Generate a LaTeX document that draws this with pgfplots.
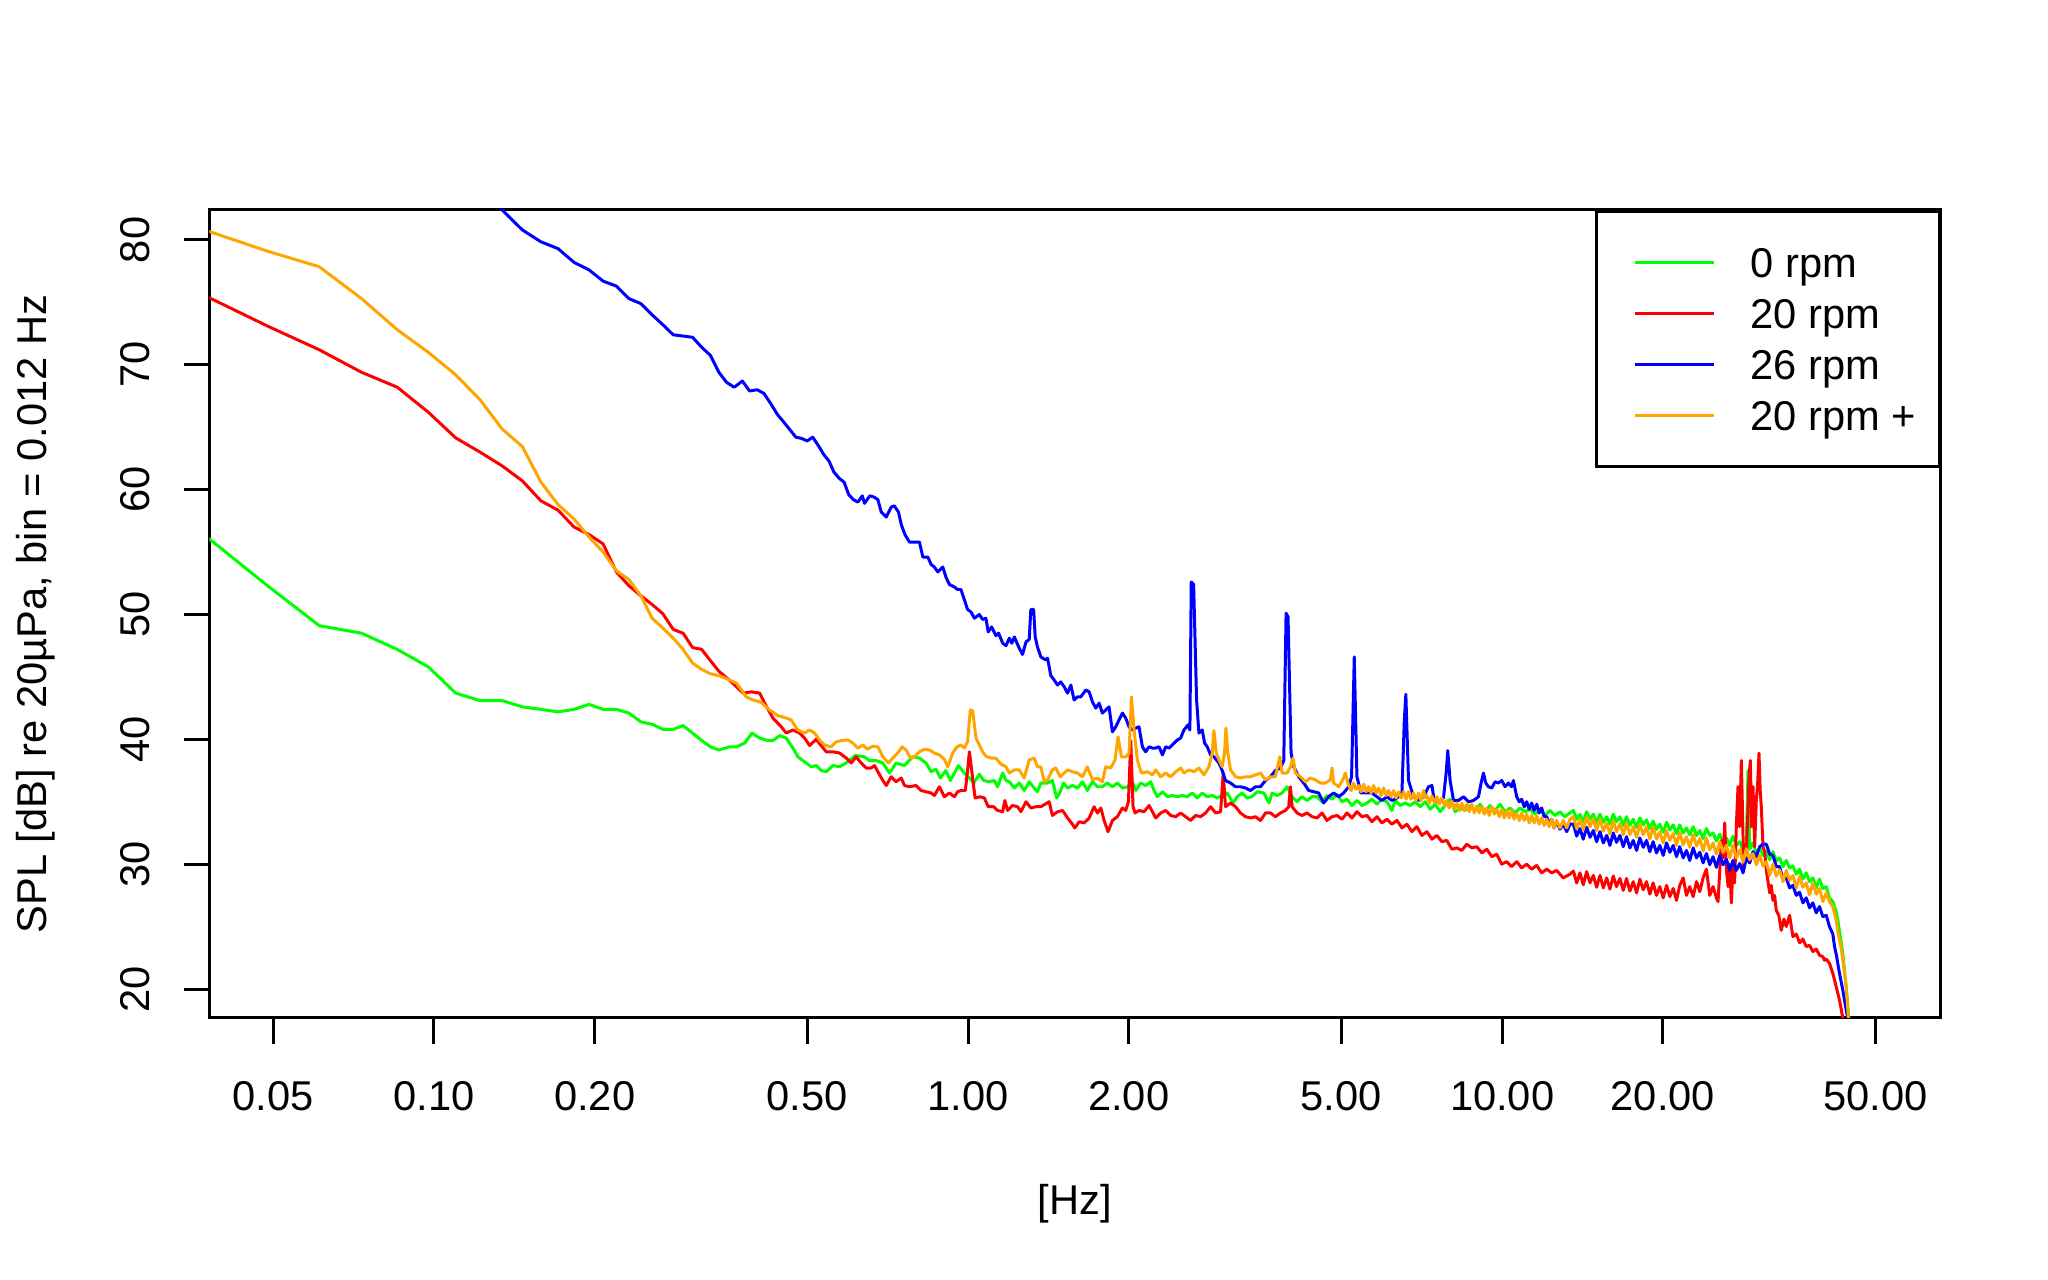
\documentclass[border=0pt]{standalone}
\usepackage{pgfplots}
\pgfplotsset{compat=1.18}
\usepackage{fontspec}
\setmainfont{Liberation Sans}
\definecolor{rgreen}{RGB}{0,255,0}
\definecolor{rred}{RGB}{255,0,0}
\definecolor{rblue}{RGB}{0,0,255}
\definecolor{rorange}{RGB}{255,165,0}
\begin{document}
\begin{tikzpicture}[font=\fontsize{11.85}{14.2}\selectfont]
\path[use as bounding box] (0,0) rectangle (204.8mm,128mm);
\begin{axis}[
  at={(20.95mm,26.2mm)}, anchor=south west,
  width=173.1mm, height=80.8mm, scale only axis,
  xmode=log, xmin=0.0380, xmax=66.2, ymin=17.68, ymax=82.40,
  axis line style={line width=0.85pt},
  every tick/.style={black, line width=0.85pt},
  tick align=outside, major tick length=2.6mm, minor tick length=0pt,
  tick pos=left,
  xtick={0.05,0.1,0.2,0.5,1,2,5,10,20,50},
  xticklabels={0.05,0.10,0.20,0.50,1.00,2.00,5.00,10.00,20.00,50.00},
  ytick={20,30,40,50,60,70,80},
  yticklabels={20,30,40,50,60,70,80},
  xticklabel style={anchor=base, yshift=-6.67mm, inner sep=0pt},
  yticklabel style={xshift=-3.45mm, rotate=90, anchor=base, inner sep=0pt},
  xlabel={[Hz]}, ylabel={SPL [dB] re 20µPa, bin = 0.012 Hz},
  every axis x label/.style={at={(axis description cs:0.5,0)}, anchor=base, yshift=-19.67mm},
  every axis y label/.style={at={(axis description cs:0,0.5)}, xshift=-16.3mm, rotate=90, anchor=base},
  legend style={at={(1,1)}, anchor=north east, draw=black, line width=0.85pt, fill=white,
    inner xsep=2.28mm, inner ysep=2.55mm, row sep=0pt, column sep=3.5mm,
    nodes={inner sep=0pt, text height=4.05mm, text depth=1.05mm}},
  legend cell align=left,
  legend image code/.code={\path (0mm,0mm); \draw[#1] (1.45mm,0mm) -- (9.35mm,0mm);},
  every axis plot/.append style={line width=0.85pt, line join=round},
]
% 0 rpm
\addplot[rgreen] coordinates {
(0.0366,56.6) (0.0488,52.3) (0.0610,49.1) (0.0732,48.5) (0.0854,47.2) (0.0976,45.8) (0.1098,43.7) (0.1220,43.1) (0.1342,43.1) (0.1464,42.6) (0.1586,42.4) (0.1708,42.2) (0.1830,42.4) (0.1952,42.8) (0.2074,42.4) (0.2196,42.4) (0.2318,42.1) (0.2440,41.4) (0.2562,41.2) (0.2684,40.8) (0.2806,40.8) (0.2928,41.1) (0.3050,40.5) (0.3172,39.9) (0.3294,39.4) (0.3416,39.15)
(0.358,39.4) (0.3685,39.4) (0.382,39.7) (0.394,40.5) (0.4073,40.1) (0.4221,39.9) (0.4313,39.9) (0.444,40.3) (0.4567,40.1) (0.470,39.3) (0.4803,38.6) (0.4943,38.2) (0.5087,37.8) (0.5197,37.9) (0.531,37.5) (0.5426,37.4) (0.5585,37.9) (0.5747,37.8) (0.5957,38.2) (0.6147,38.7) (0.640,38.6) (0.6539,38.3) (0.673,38.3) (0.6927,38.1) (0.7129,37.3) (0.7333,38.1) (0.7604,37.9) (0.7882,38.6) (0.811,38.5) (0.8346,38.1) (0.853,37.4) (0.871,37.6) (0.8876,36.9) (0.909,37.5) (0.9267,36.7) (0.943,37.3) (0.9592,37.9) (0.984,37.3) (1.006,36.9) (1.025,36.5) (1.050,37.2) (1.070,36.7) (1.096,36.6) (1.120,36.7) (1.136,36.2) (1.161,37.3) (1.178,36.7) (1.195,36.6) (1.221,36.1) (1.247,36.5) (1.274,35.9) (1.302,36.6) (1.330,36.1) (1.349,35.8) (1.369,36.5) (1.409,36.5) (1.439,36.7) (1.466,35.3) (1.488,35.8) (1.510,36.5) (1.536,36.1) (1.569,36.3) (1.603,36.1) (1.638,36.6) (1.673,35.9) (1.710,36.6) (1.747,36.2) (1.785,36.2) (1.824,36.5) (1.864,36.2) (1.904,36.5) (1.946,36.1) (1.99,36.2) (2.031,36.6) (2.061,35.9) (2.105,36.5) (2.151,36.3) (2.198,36.6)
(2.230,35.9) (2.262,35.4) (2.312,35.8) (2.362,35.4) (2.413,35.5) (2.465,35.4) (2.519,35.5) (2.574,35.4) (2.630,35.7) (2.687,35.3) (2.745,35.7) (2.805,35.4) (2.867,35.5) (2.929,35.3) (2.992,35.5) (3.057,35.7) (3.134,34.9) (3.192,35.4) (3.26,35.7) (3.33,35.3) (3.40,35.4) (3.48,35.8) (3.58,35.7) (3.66,34.9) (3.71,35.7) (3.79,35.5) (3.874,35.7) (3.958,36.2) (4.044,35.4) (4.132,35.0) (4.222,35.4) (4.313,35.1) (4.407,35.4)
(4.503,35.4) (4.601,35.0) (4.700,35.5) (4.803,35.2) (4.907,35.6) (5.014,35.0) (5.123,35.2) (5.234,34.7) (5.348,35.1) (5.465,34.7) (5.585,34.9) (5.706,35.2) (5.831,34.8) (5.957,35.2) (6.087,35.0) (6.219,34.3) (6.309,35.1) (6.447,34.7) (6.588,34.9) (6.730,34.7) (6.876,35.0) (7.027,34.6) (7.180,35.0) (7.337,34.4) (7.496,34.8) (7.656,34.2) (7.823,34.7) (7.992,35.2) (8.167,34.2) (8.344,34.5) (8.527,34.3) (8.712,34.7) (8.902,34.3) (9.096,34.8) (9.294,34.2) (9.495,34.7) (9.703,34.3) (9.913,34.8) (10.13,34.2) (10.35,34.5) (10.58,34.1) (10.80,34.5) (11.04,34.2) (11.28,34.4) (11.52,34.0) (11.78,34.4) (12.03,33.9) (12.29,34.3) (12.56,33.9) (12.83,34.2) (13.10,33.8) (13.40,34.1)
(13.60,34.3) (13.79,33.6) (13.99,34.0) (14.19,33.4) (14.40,34.2) (14.61,33.6) (14.82,34.0) (15.03,33.35) (15.25,34.0) (15.47,33.35) (15.70,33.8) (15.92,33.2) (16.15,34.0) (16.38,33.4) (16.62,33.8) (16.86,33.1) (17.10,33.8) (17.35,33.1) (17.60,33.6) (17.86,32.95) (18.11,33.7) (18.38,33.15) (18.64,33.55) (18.91,32.85) (19.18,33.45) (19.46,32.8) (19.74,33.2) (20.03,32.55) (20.32,33.35) (20.61,32.75) (20.91,33.15) (21.21,32.45) (21.51,33.15) (21.83,32.5) (22.14,32.9) (22.46,32.35) (22.79,33.0) (23.12,32.3) (23.45,32.7) (23.79,32.05) (24.13,32.85) (24.48,32.3) (24.83,32.5) (25.19,31.85) (25.56,32.4) (25.93,31.8) (26.30,32.1) (26.68,31.5) (27.06,32.25) (27.45,31.5) (27.86,31.8) (28.26,31.1) (28.67,31.8) (28.87,37.5) (29.08,31.2) (29.50,31.7) (29.93,30.9) (30.36,31.3) (30.80,30.7) (31.24,31.0) (31.70,30.35) (32.15,31.0) (32.61,30.25) (33.08,30.5) (33.57,29.8) (34.05,30.3) (34.54,29.7) (35.04,29.85) (35.55,29.2) (36.06,29.6) (36.58,28.8) (37.11,29.3) (37.65,28.6) (38.19,28.9) (38.74,28.1) (39.30,28.8) (39.87,28.05) (40.45,28.2) (41.02,27.3) (41.62,27.0) (42.22,26.2) (42.53,25.5) (42.83,24.6) (43.15,23.7) (43.45,22.8) (43.76,21.5) (44.08,20.2) (44.40,18.6) (44.59,17.6) (45.0,15.0)
};
\addlegendentry{0 rpm}
% 20 rpm
\addplot[rred] coordinates {
(0.0366,75.7) (0.0488,73.1) (0.0610,71.2) (0.0732,69.4) (0.0854,68.2) (0.0976,66.2) (0.1098,64.15) (0.1220,63.0) (0.1342,61.9) (0.1464,60.7) (0.1586,59.1) (0.1708,58.35) (0.1830,57.0) (0.1952,56.4) (0.2074,55.65) (0.2196,53.4) (0.2318,52.3) (0.2440,51.5) (0.2562,50.8) (0.2684,50.05) (0.2806,48.8) (0.2928,48.5) (0.3050,47.35) (0.3172,47.2) (0.3294,46.3) (0.3416,45.45)
(0.3606,44.6) (0.3792,43.7) (0.393,43.8) (0.4073,43.7) (0.4161,42.9) (0.4313,41.7) (0.447,41.0) (0.4567,40.5) (0.470,40.75) (0.4838,40.5) (0.4943,40.1) (0.5051,39.5) (0.5197,40.0) (0.5426,39.0) (0.5585,39.0) (0.5747,38.9) (0.5914,38.5) (0.6043,38.1) (0.6174,38.6) (0.631,38.1) (0.6447,37.7) (0.6587,37.7) (0.6683,37.9) (0.678,37.4) (0.6927,36.7) (0.703,36.3) (0.718,37.0) (0.7333,36.6) (0.750,36.9) (0.7604,36.3) (0.777,36.2) (0.7996,36.3) (0.8167,35.9) (0.8346,35.8) (0.853,35.7) (0.865,35.5) (0.8839,36.2) (0.9031,35.4) (0.923,35.7) (0.943,35.4) (0.956,35.8) (0.970,35.9) (0.9885,35.9) (0.998,37.5) (1.006,39.0) (1.016,37.5) (1.031,35.3) (1.054,35.4) (1.073,35.3) (1.091,34.6) (1.117,34.6) (1.136,34.3) (1.161,34.2) (1.172,35.1) (1.186,34.3) (1.212,34.7) (1.238,34.6) (1.256,34.2) (1.284,35.0) (1.311,34.5) (1.340,34.6) (1.369,34.6) (1.419,35.0) (1.439,33.9) (1.471,34.2) (1.503,34.3) (1.536,33.7) (1.562,33.3) (1.585,32.9) (1.615,33.4) (1.650,33.3) (1.686,33.7) (1.722,34.6) (1.747,34.1) (1.773,34.5) (1.798,33.5) (1.829,32.6) (1.864,33.5) (1.904,33.8) (1.946,34.5) (1.974,34.3) (1.997,35.0) (2.017,39.9) (2.037,34.6) (2.055,34.1) (2.090,34.3) (2.136,34.2) (2.183,34.7)
(2.246,33.7) (2.295,34.1) (2.344,34.3) (2.396,33.9) (2.448,33.8) (2.501,34.1) (2.555,33.8) (2.611,33.5) (2.668,33.9) (2.726,33.8) (2.785,34.1) (2.846,34.6) (2.908,34.1) (2.971,34.2) (3.005,37.3) (3.035,34.6) (3.101,34.9) (3.169,34.6) (3.237,34.1) (3.308,33.8) (3.381,33.7) (3.454,33.8) (3.529,33.5) (3.606,34.1) (3.685,34.1) (3.764,33.8) (3.846,34.1) (3.930,34.3) (3.986,34.6) (4.015,36.2) (4.044,34.6) (4.132,34.1) (4.222,33.9) (4.313,34.1) (4.407,33.8) (4.503,33.7) (4.601,34.1) (4.700,33.5) (4.803,33.8) (4.907,33.9) (5.014,33.6) (5.123,34.1) (5.234,33.7) (5.348,34.2) (5.465,33.8) (5.585,33.9) (5.706,33.4) (5.831,33.8) (5.957,33.3) (6.087,33.6) (6.219,33.2) (6.355,33.5) (6.494,32.9) (6.635,33.2) (6.778,32.6) (6.925,33.0) (7.077,32.3) (7.231,32.6) (7.390,32.0) (7.550,32.3) (7.712,31.8) (7.879,31.9) (8.051,31.2) (8.226,31.3) (8.406,31.1) (8.588,31.6) (8.776,31.3) (8.966,31.4) (9.162,30.9) (9.361,31.2) (9.563,30.6) (9.772,30.8) (9.984,30.0) (10.20,30.2) (10.42,29.8) (10.65,30.2) (10.88,29.7) (11.12,30.0) (11.36,29.6) (11.61,29.9) (11.86,29.3) (12.12,29.6) (12.38,29.3) (12.65,29.5) (13.02,28.9) (13.40,29.2)
(13.60,29.45) (13.79,28.5) (13.99,29.3) (14.19,28.35) (14.40,29.4) (14.61,28.5) (14.82,29.1) (15.03,28.15) (15.25,29.1) (15.47,28.1) (15.70,28.9) (15.92,28.0) (16.15,29.05) (16.38,28.2) (16.62,28.85) (16.86,27.9) (17.10,28.85) (17.35,27.85) (17.60,28.6) (17.86,27.7) (18.11,28.8) (18.38,27.95) (18.64,28.6) (18.91,27.6) (19.18,28.5) (19.46,27.5) (19.74,28.2) (20.03,27.3) (20.32,28.3) (20.61,27.4) (20.91,28.05) (21.21,27.1) (21.51,28.3) (21.83,28.9) (22.14,27.5) (22.46,28.2) (22.79,27.4) (23.12,28.6) (23.45,27.8) (23.79,28.9) (24.13,29.6) (24.48,27.5) (24.83,28.2) (25.19,27.3) (25.37,27.0) (25.56,29.5) (25.74,31.9) (25.93,30.5) (26.11,33.3) (26.30,29.6) (26.49,28.2) (26.68,30.0) (26.87,26.9) (27.06,29.8) (27.25,28.5) (27.45,33.0) (27.65,36.2) (27.85,33.0) (28.05,38.3) (28.20,34.0) (28.33,29.8) (28.50,31.5) (28.67,30.9) (28.87,34.6) (29.00,37.0) (29.16,38.3) (29.33,33.0) (29.50,36.2) (29.71,31.4) (29.92,35.1) (30.10,36.5) (30.27,38.9) (30.42,36.0) (30.57,34.6) (30.80,31.4) (31.02,31.0) (31.24,29.5) (31.47,28.6) (31.70,27.7) (31.92,28.3) (32.15,27.1) (32.38,27.5) (32.61,26.3) (32.97,25.9) (33.32,24.7) (33.70,25.6) (34.05,25.0) (34.54,25.9) (35.04,24.2) (35.55,24.4) (36.06,23.7) (36.58,24.0) (37.11,23.4) (37.65,23.5) (38.19,23.0) (38.74,23.2) (39.30,22.7) (39.87,22.6) (40.15,22.3) (40.45,22.4) (41.02,22.05) (41.62,21.25) (42.22,20.18) (42.83,19.12) (43.45,17.65) (44.0,14.0)
};
\addlegendentry{20 rpm}
% 26 rpm
\addplot[rblue] coordinates {
(0.1098,85.6) (0.1220,84.0) (0.1342,82.4) (0.1464,80.8) (0.1586,79.85) (0.1708,79.3) (0.1830,78.2) (0.1952,77.6) (0.2074,76.7) (0.2196,76.3) (0.2318,75.3) (0.2440,74.9) (0.2562,74.0) (0.2684,73.2) (0.2806,72.4) (0.2928,72.3) (0.3050,72.2) (0.3172,71.4) (0.3294,70.75) (0.3416,69.4)
(0.353,68.6) (0.365,68.2) (0.378,68.7) (0.390,67.9) (0.403,68.0) (0.415,67.7) (0.427,66.9) (0.440,66.0) (0.452,65.4) (0.464,64.8) (0.476,64.2) (0.488,64.1) (0.500,63.9) (0.512,64.2) (0.525,63.5) (0.537,62.8) (0.549,62.3) (0.561,61.4) (0.574,60.9) (0.586,60.6) (0.598,59.6) (0.610,59.2) (0.622,59.0) (0.634,59.5) (0.640,58.9) (0.655,59.5) (0.667,59.4) (0.678,59.2) (0.688,58.2) (0.703,57.8) (0.718,58.6) (0.728,58.7) (0.741,58.2) (0.750,57.2) (0.762,56.4) (0.777,55.8) (0.794,55.8) (0.811,55.8) (0.823,54.6) (0.841,54.6) (0.853,54.0) (0.865,53.8) (0.878,53.4) (0.897,53.8) (0.909,53.0) (0.923,52.4) (0.943,52.2) (0.956,52.0) (0.970,52.0) (0.984,51.2) (0.998,50.4) (1.013,50.2) (1.028,49.7) (1.050,50.0) (1.065,49.6) (1.080,49.7) (1.091,48.6) (1.107,49.0) (1.128,48.3) (1.141,48.5) (1.161,47.7) (1.178,47.5) (1.195,48.1) (1.208,47.7) (1.221,48.2) (1.247,47.3) (1.265,46.8) (1.284,47.8) (1.302,48.0) (1.311,50.4) (1.327,50.4) (1.336,48.2) (1.349,47.4) (1.369,46.6) (1.399,46.35) (1.409,46.5) (1.429,45.1) (1.450,44.75) (1.471,44.35) (1.492,44.6) (1.514,44.2) (1.536,43.7) (1.558,44.35) (1.580,43.15) (1.603,43.4) (1.626,43.4) (1.662,43.95) (1.686,43.8) (1.710,43.0) (1.735,42.5) (1.760,42.9) (1.785,42.1) (1.811,42.35) (1.837,42.6) (1.864,40.6) (1.891,41.0) (1.918,41.55) (1.946,42.1) (1.974,41.7) (2.002,41.0) (2.031,40.75) (2.061,40.9) (2.090,41.0) (2.121,39.4) (2.151,39.0) (2.183,39.4) (2.214,39.3) (2.246,39.3) (2.279,39.4) (2.312,38.75) (2.345,39.4) (2.379,39.3) (2.413,39.55) (2.466,39.95) (2.501,40.1) (2.537,40.75) (2.581,41.15) (2.603,40.75) (2.618,52.6) (2.645,52.4) (2.679,43.15) (2.706,40.5) (2.745,40.75) (2.773,39.7) (2.805,39.4) (2.846,38.75) (2.887,38.6) (2.950,38.1) (2.992,37.5) (3.035,36.7) (3.101,36.5) (3.169,36.2) (3.237,36.2) (3.308,36.1) (3.381,35.9) (3.454,36.2) (3.529,36.2) (3.606,36.7) (3.685,37.0) (3.764,37.5) (3.846,37.7) (3.902,38.3) (3.941,50.1) (3.975,49.8) (4.026,38.9) (4.073,37.8) (4.161,37.0) (4.252,36.5) (4.344,35.9) (4.439,35.8) (4.535,35.7) (4.634,34.9) (4.734,35.4) (4.838,35.7) (4.943,35.4) (5.050,35.7) (5.160,36.2) (5.226,37.0) (5.287,46.6) (5.348,37.0) (5.441,35.7) (5.585,35.7) (5.706,35.7) (5.831,35.4) (5.957,35.1) (6.087,35.4) (6.219,35.1) (6.355,35.3) (6.494,35.7) (6.560,41.5) (6.604,43.6) (6.680,36.7) (6.827,35.4) (6.977,35.1) (7.128,35.4) (7.283,36.2) (7.390,36.3) (7.464,35.1) (7.604,35.0) (7.768,35.3) (7.858,37.3) (7.913,39.1) (7.992,36.7) (8.110,35.1) (8.285,35.1) (8.466,35.4) (8.650,35.0) (8.839,35.1) (9.031,35.4) (9.135,36.5) (9.228,37.3) (9.321,36.5) (9.428,36.2) (9.563,36.1) (9.703,36.6) (9.842,36.5) (9.984,36.7) (10.13,36.2) (10.28,36.5) (10.42,36.2) (10.50,36.7)
(10.65,35.4) (10.77,35.0) (10.88,35.2) (11.00,34.6) (11.12,35.0) (11.24,34.4) (11.36,34.9) (11.48,34.3) (11.61,34.8) (11.73,34.1) (11.86,34.5) (11.99,33.8) (12.12,33.8) (12.25,33.2) (12.38,33.6) (12.51,32.9) (12.65,33.4) (12.83,32.8) (13.02,33.2) (13.21,32.6) (13.40,33.2)
(13.60,33.2) (13.79,32.25) (13.99,32.85) (14.19,32.0) (14.40,32.95) (14.61,32.15) (14.82,32.7) (15.03,31.8) (15.25,32.6) (15.47,31.7) (15.70,32.3) (15.92,31.5) (16.15,32.5) (16.38,31.75) (16.62,32.3) (16.86,31.4) (17.10,32.2) (17.35,31.3) (17.60,31.9) (17.86,31.1) (18.11,32.1) (18.38,31.35) (18.64,31.9) (18.91,31.0) (19.18,31.8) (19.46,30.9) (19.74,31.5) (20.03,30.7) (20.32,31.7) (20.61,30.95) (20.91,31.5) (21.21,30.6) (21.51,31.4) (21.83,30.5) (22.14,31.1) (22.46,30.3) (22.79,31.3) (23.12,30.5) (23.45,30.95) (23.79,30.1) (24.13,30.85) (24.48,29.95) (24.83,30.6) (25.19,29.75) (25.56,30.7) (25.93,29.95) (26.30,30.4) (26.68,29.5) (27.06,30.3) (27.45,29.5) (27.86,30.05) (28.26,29.3) (28.67,30.5) (29.08,30.1) (29.50,31.0) (29.93,30.6) (30.36,31.4) (30.80,31.6) (31.24,31.6) (31.70,30.8) (32.15,30.7) (32.61,29.8) (33.08,29.8) (33.57,28.8) (34.05,28.9) (34.54,28.1) (35.04,28.3) (35.55,27.5) (36.06,27.75) (36.58,26.9) (37.11,27.3) (37.65,26.5) (38.19,26.9) (38.74,26.1) (39.30,26.6) (39.87,25.8) (40.45,25.9) (41.02,25.0) (41.62,24.4) (41.92,23.4) (42.22,22.8) (42.83,21.25) (43.45,19.9) (43.76,19.1) (44.40,17.6) (44.8,15.0)
};
\addlegendentry{26 rpm}
% 20 rpm +
\addplot[rorange] coordinates {
(0.0366,80.9) (0.0488,79.1) (0.0610,77.85) (0.0732,75.3) (0.0854,72.8) (0.0976,71.0) (0.1098,69.2) (0.1220,67.2) (0.1342,64.85) (0.1464,63.45) (0.1586,60.6) (0.1708,58.8) (0.1830,57.65) (0.1952,56.2) (0.2074,55.0) (0.2196,53.5) (0.2318,52.8) (0.2440,51.5) (0.2562,49.7) (0.2684,48.9) (0.2806,48.1) (0.2928,47.2) (0.3050,46.1) (0.3172,45.6) (0.3294,45.25) (0.3416,45.1)
(0.358,44.75) (0.3685,44.5) (0.3766,43.95) (0.3846,43.4) (0.396,43.15) (0.4102,42.95) (0.4251,42.35) (0.4406,41.9) (0.4567,41.7) (0.4667,41.55) (0.4803,40.75) (0.4943,40.5) (0.5051,40.75) (0.516,40.5) (0.5272,39.95) (0.5387,39.55) (0.5544,39.4) (0.5665,39.8) (0.5788,39.9) (0.5957,39.95) (0.6086,39.7) (0.6218,39.3) (0.6355,39.55) (0.6475,39.2) (0.6635,39.45) (0.678,39.4) (0.6927,38.6) (0.7098,38.1) (0.7228,38.5) (0.7386,38.9) (0.7527,39.4) (0.7658,39.15) (0.7804,38.5) (0.794,38.6) (0.811,39.0) (0.8286,39.2) (0.8465,39.15) (0.865,38.9) (0.8839,38.75) (0.9031,38.4) (0.9161,37.8) (0.9361,38.9) (0.9537,39.4) (0.970,39.55) (0.984,39.3) (0.998,39.8) (1.010,42.35) (1.020,42.3) (1.035,40.1) (1.050,39.55) (1.065,39.0) (1.080,38.65) (1.104,38.5) (1.128,38.5) (1.153,38.0) (1.178,37.8) (1.195,37.3) (1.221,37.55) (1.247,37.55) (1.274,36.9) (1.302,38.35) (1.330,38.5) (1.349,37.8) (1.369,37.8) (1.389,36.6) (1.409,36.75) (1.439,37.55) (1.460,37.7) (1.488,37.0) (1.514,37.3) (1.536,37.55) (1.569,37.4) (1.603,37.3) (1.638,37.0) (1.673,37.8) (1.710,36.75) (1.747,36.9) (1.785,36.6) (1.811,37.8) (1.850,37.7) (1.885,38.35) (1.910,40.2) (1.937,38.6) (1.974,38.6) (2.002,38.9) (2.023,43.4) (2.046,40.75) (2.075,38.35) (2.112,37.3) (2.167,37.4) (2.214,37.15)
(2.246,37.55) (2.295,37.0) (2.344,37.3) (2.396,37.0) (2.448,37.4) (2.501,37.7) (2.537,37.3) (2.592,37.55) (2.649,37.4) (2.706,37.7) (2.765,37.15) (2.825,37.8) (2.867,38.9) (2.887,40.7) (2.917,38.9) (2.950,38.35) (2.992,37.8) (3.022,38.9) (3.040,40.9) (3.066,38.9) (3.101,37.55) (3.169,37.0) (3.237,36.9) (3.308,37.0) (3.381,37.0) (3.454,37.15) (3.529,37.3) (3.606,36.75) (3.685,37.0) (3.764,37.0) (3.835,38.6) (3.874,37.3) (3.958,37.3) (4.015,37.8) (4.061,38.5) (4.102,37.3) (4.191,37.0) (4.282,36.6) (4.375,36.9) (4.471,36.75) (4.568,36.5) (4.667,36.5) (4.768,36.75) (4.803,37.7) (4.838,36.5) (4.943,36.2) (5.050,36.9) (5.086,37.3)
(5.160,36.3) (5.216,35.9) (5.272,36.5) (5.33,36.0) (5.387,36.3) (5.446,35.8) (5.505,36.4) (5.565,35.8) (5.625,36.2) (5.686,35.7) (5.747,36.3) (5.81,35.7) (5.873,36.1) (5.936,35.5) (6.000,36.1) (6.065,35.5) (6.131,35.9) (6.197,35.4) (6.264,35.9) (6.332,35.3) (6.401,35.8) (6.471,35.3) (6.541,35.8) (6.61,35.2) (6.680,35.8) (6.75,35.2) (6.827,35.7) (6.90,35.1) (6.977,35.7) (7.05,35.1) (7.128,35.9) (7.18,35.3) (7.231,35.5) (7.31,34.9) (7.390,35.45) (7.47,34.9) (7.550,35.4) (7.63,34.8) (7.712,35.3) (7.80,34.7) (7.879,35.1) (7.96,34.5) (8.051,35.05) (8.14,34.4) (8.226,34.9) (8.32,34.3) (8.406,34.9) (8.50,34.3) (8.588,34.8) (8.68,34.2) (8.776,34.8) (8.87,34.1) (8.966,34.65) (9.06,34.1) (9.162,34.65) (9.26,34.0) (9.361,34.5) (9.46,33.9) (9.563,34.6) (9.67,34.0) (9.772,34.4) (9.88,33.8) (9.984,34.4) (10.09,33.7) (10.20,34.3) (10.31,33.7) (10.42,34.35) (10.53,33.6) (10.65,34.1) (10.77,33.5) (10.88,34.1) (11.00,33.5) (11.12,34.0) (11.24,33.3) (11.36,33.9) (11.48,33.3) (11.61,33.85) (11.73,33.2) (11.86,33.7) (11.99,33.1) (12.12,33.6) (12.25,33.0) (12.38,33.6) (12.51,32.9) (12.65,33.5) (12.83,32.9) (13.02,33.5) (13.21,32.9) (13.40,33.6)
(13.60,33.8) (13.79,32.85) (13.99,33.6) (14.19,32.75) (14.40,33.8) (14.61,33.0) (14.82,33.65) (15.03,32.7) (15.25,33.6) (15.47,32.65) (15.70,33.3) (15.92,32.4) (16.15,33.45) (16.38,32.6) (16.62,33.25) (16.86,32.35) (17.10,33.3) (17.35,32.35) (17.60,33.0) (17.86,32.15) (18.11,33.2) (18.38,32.35) (18.64,33.0) (18.91,32.0) (19.18,33.0) (19.46,32.0) (19.74,32.6) (20.03,31.7) (20.32,32.7) (20.61,31.9) (20.91,32.45) (21.21,31.5) (21.51,32.55) (21.83,31.55) (22.14,32.2) (22.46,31.35) (22.79,32.4) (23.12,31.45) (23.45,32.05) (23.79,31.05) (24.13,32.1) (24.48,31.15) (24.83,31.7) (25.19,30.8) (25.56,31.8) (25.93,30.95) (26.30,31.5) (26.68,30.5) (27.06,31.5) (27.45,30.5) (27.86,31.15) (28.26,30.15) (28.67,31.25) (29.08,30.35) (29.50,30.85) (29.93,29.95) (30.36,30.7) (30.80,29.85) (31.24,30.2) (31.70,29.1) (32.15,30.0) (32.61,29.05) (33.08,29.55) (33.57,28.6) (34.05,29.5) (34.54,28.7) (35.04,29.1) (35.55,28.1) (36.06,29.0) (36.58,28.15) (37.11,28.5) (37.65,27.55) (38.19,28.5) (38.74,27.6) (39.30,28.05) (39.87,27.0) (40.45,27.7) (41.02,27.0) (41.62,26.6) (42.22,25.5) (42.53,24.6) (42.83,23.9) (43.15,23.2) (43.45,22.3) (43.76,21.3) (44.08,20.2) (44.52,17.6) (44.9,15.0)
};
\addlegendentry{20 rpm +}
\end{axis}
\end{tikzpicture}
\end{document}
